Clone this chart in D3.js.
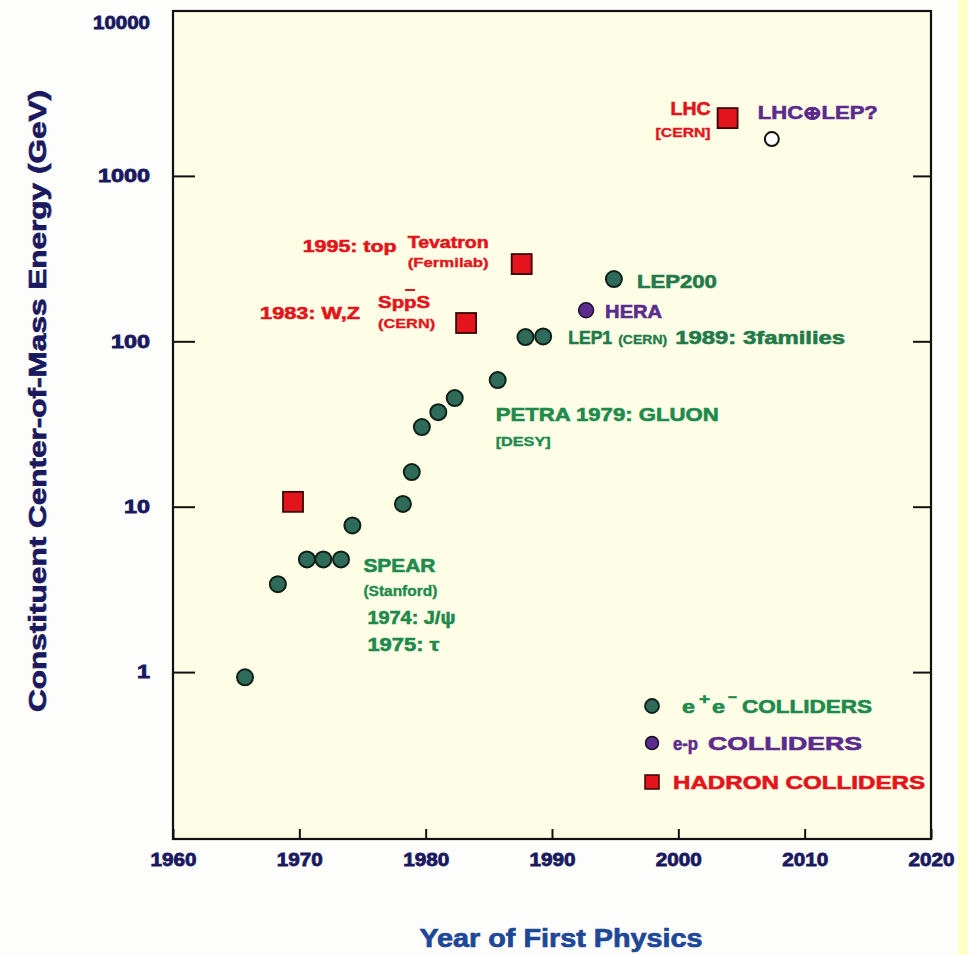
<!DOCTYPE html>
<html>
<head>
<meta charset="utf-8">
<script src="https://cdn.jsdelivr.net/npm/d3@7"></script>
<style>
  html, body { margin: 0; padding: 0; background: #fdfdfb; }
  svg { display: block; }
</style>
</head>
<body>
<svg id="chart" width="968" height="955"></svg>
<script>
// ---- data: year of first physics vs constituent centre-of-mass energy (GeV) ----
const eeYears   = [1965.7, 1968.3, 1970.6, 1971.9, 1973.3, 1974.2, 1978.2, 1978.9, 1979.7, 1981.0, 1982.3, 1985.7, 1987.9, 1989.3, 1994.9];
const eeEnergy  = [0.93, 3.4, 4.8, 4.8, 4.8, 7.7, 10.4, 16.2, 30.3, 37.3, 45.4, 58.3, 106, 107, 238];
const epYears   = [1992.7];
const epEnergy  = [154];
const hadronNames  = ["ISR", "SppS", "Tevatron", "LHC"];
const hadronYears  = [1969.5, 1983.2, 1987.6, 2003.9];
const hadronEnergy = [10.7, 129, 293, 2236];
const futureYears  = [2007.4];
const futureEnergy = [1670];
const xTicks = [1960, 1970, 1980, 1990, 2000, 2010, 2020];
const yTicks = [1, 10, 100, 1000, 10000];

// ---- layout ----
const FONT = "'Liberation Sans', Arial, Helvetica, sans-serif";
const GREEN_TXT = "#1e8a4c", LEP_TXT = "#237a49", GREEN_MK = "#2e6b58", PURPLE = "#5b2b8e", RED = "#e3141b", NAVY = "#1a1960";
const box = { left: 173, right: 931, top: 11, bottom: 839 };

const svg = d3.select("#chart");
const x = d3.scaleLinear().domain([1960, 2020]).range([box.left, box.right]);
const y = d3.scaleLog().domain([0.1, 10000]).range([837.5, 10.5]);

// heavy bold text helper
const heavy = (sel, color, sw) => sel
  .attr("font-family", FONT).attr("font-weight", "bold")
  .attr("fill", color).attr("stroke", color).attr("stroke-width", sw == null ? 0.6 : sw)
  .attr("lengthAdjust", "spacingAndGlyphs");

// yellow strip at the right edge
svg.append("rect").attr("x", 958).attr("y", 0).attr("width", 10).attr("height", 955).attr("fill", "#ffffc6");

// plot panel
svg.append("rect")
  .attr("x", box.left).attr("y", box.top)
  .attr("width", box.right - box.left).attr("height", box.bottom - box.top)
  .attr("fill", "#fefee6");

// ---- axes ----
const styleAxis = g => {
  g.select(".domain").remove();
  g.selectAll(".tick line").attr("stroke", "#111").attr("stroke-width", 2);
  heavy(g.selectAll(".tick text"), NAVY, 0.8).attr("font-size", 18);
};

const yAxis = svg.append("g").attr("transform", `translate(${box.left},0)`)
  .call(d3.axisLeft(y).tickValues(yTicks).tickFormat(d3.format("d")).tickSize(-22).tickPadding(23))
  .call(styleAxis);
yAxis.selectAll(".tick text").attr("textLength", d => String(d).length * 13);
yAxis.selectAll(".tick").filter(d => d === 10000).select("text").attr("dy", "1.0em").attr("textLength", 57);

svg.append("g").attr("transform", `translate(${box.right},0)`)
  .call(d3.axisRight(y).tickValues(yTicks).tickFormat("").tickSize(-18))
  .call(styleAxis);

const xAxis = svg.append("g").attr("transform", `translate(0,${box.bottom})`)
  .call(d3.axisBottom(x).tickValues(xTicks).tickFormat(d3.format("d")).tickSize(-10).tickPadding(14))
  .call(styleAxis);
xAxis.selectAll(".tick text").attr("textLength", 46);

// frame
svg.append("rect")
  .attr("x", box.left).attr("y", box.top)
  .attr("width", box.right - box.left).attr("height", box.bottom - box.top)
  .attr("fill", "none").attr("stroke", "#111").attr("stroke-width", 2.2);

// axis titles
heavy(svg.append("text"), NAVY, 0.7)
  .attr("transform", `translate(46,401) rotate(-90)`)
  .attr("text-anchor", "middle").attr("font-size", 24)
  .attr("textLength", 622)
  .text("Constituent Center-of-Mass Energy (GeV)");

heavy(svg.append("text"), "#1f4797", 0.7)
  .attr("x", 561).attr("y", 947)
  .attr("text-anchor", "middle").attr("font-size", 25)
  .attr("textLength", 283)
  .text("Year of First Physics");

// ---- markers ----
const ee = eeYears.map((yr, i) => ({ year: yr, energy: eeEnergy[i] }));
const ep = epYears.map((yr, i) => ({ year: yr, energy: epEnergy[i] }));
const hadron = hadronYears.map((yr, i) => ({ name: hadronNames[i], year: yr, energy: hadronEnergy[i] }));
const future = futureYears.map((yr, i) => ({ year: yr, energy: futureEnergy[i] }));

svg.append("g").selectAll("circle").data(ee).join("circle")
  .attr("cx", d => x(d.year)).attr("cy", d => y(d.energy)).attr("r", 8)
  .attr("fill", GREEN_MK).attr("stroke", "#0f1f19").attr("stroke-width", 2);

svg.append("g").selectAll("circle").data(ep).join("circle")
  .attr("cx", d => x(d.year)).attr("cy", d => y(d.energy)).attr("r", 7.5)
  .attr("fill", PURPLE).attr("stroke", "#1a0f2a").attr("stroke-width", 1.5);

const SQ = 20;
svg.append("g").selectAll("rect").data(hadron).join("rect")
  .attr("x", d => x(d.year) - SQ / 2).attr("y", d => y(d.energy) - SQ / 2)
  .attr("width", SQ).attr("height", SQ)
  .attr("fill", RED).attr("stroke", "#3a0505").attr("stroke-width", 1.8);

svg.append("g").selectAll("circle").data(future).join("circle")
  .attr("cx", d => x(d.year)).attr("cy", d => y(d.energy)).attr("r", 7)
  .attr("fill", "#ffffff").attr("stroke", "#111").attr("stroke-width", 2);

// ---- annotations, placed relative to the marker they describe ----
const P = (arr, i) => ({ px: x(arr[i].year), py: y(arr[i].energy) });
const notes = [
  { at: P(hadron, 3), dx: -17, dy: -3,  text: "LHC",        size: 18, color: RED, anchor: "end", w: 40 },
  { at: P(hadron, 3), dx: -17, dy: 19,  text: "[CERN]",     size: 12, color: RED, anchor: "end", w: 55 },
  { at: P(future, 0), dx: -14, dy: -20, text: "LHC\u2295LEP?", size: 18, color: PURPLE, anchor: "start", w: 120 },
  { at: P(hadron, 2), dx: -114, dy: -16, text: "Tevatron",  size: 17, color: RED, anchor: "start", w: 81 },
  { at: P(hadron, 2), dx: -114, dy: 3,  text: "(Fermilab)", size: 13, color: RED, anchor: "start", w: 81 },
  { at: P(hadron, 2), dx: -219, dy: -12, text: "1995: top", size: 17, color: RED, anchor: "start", w: 94 },
  { at: P(hadron, 1), dx: -88, dy: -15, text: "SppS",       size: 17, color: RED, anchor: "start", w: 52 },
  { at: P(hadron, 1), dx: -88, dy: 5,   text: "(CERN)",     size: 13, color: RED, anchor: "start", w: 57 },
  { at: P(hadron, 1), dx: -206, dy: -4, text: "1983: W,Z",  size: 17, color: RED, anchor: "start", w: 100 },
  { at: P(ee, 14),    dx: 23, dy: 9,    text: "LEP200",     size: 18, color: LEP_TXT, anchor: "start", w: 80 },
  { at: P(ep, 0),     dx: 19, dy: 8,    text: "HERA",       size: 18, color: PURPLE, anchor: "start", w: 57 },
  { at: P(ee, 13),    dx: 25, dy: 8,    text: "LEP1",       size: 18, color: LEP_TXT, anchor: "start", w: 44 },
  { at: P(ee, 13),    dx: 75, dy: 8,    text: "(CERN)",     size: 12, color: LEP_TXT, anchor: "start", w: 49 },
  { at: P(ee, 13),    dx: 132, dy: 8,   text: "1989: 3families", size: 18, color: LEP_TXT, anchor: "start", w: 170 },
  { at: P(ee, 11),    dx: -2, dy: 41,   text: "PETRA  1979: GLUON", size: 18, color: GREEN_TXT, anchor: "start", w: 223 },
  { at: P(ee, 11),    dx: -2, dy: 66,   text: "[DESY]",     size: 12, color: GREEN_TXT, anchor: "start", w: 55 },
  { at: P(ee, 5),     dx: 11, dy: 47,   text: "SPEAR",      size: 18, color: GREEN_TXT, anchor: "start", w: 72 },
  { at: P(ee, 5),     dx: 11, dy: 71,   text: "(Stanford)", size: 14, color: GREEN_TXT, anchor: "start", w: 74 },
  { at: P(ee, 5),     dx: 15, dy: 99,   text: "1974: J/\u03c8", size: 18, color: GREEN_TXT, anchor: "start", w: 88 },
  { at: P(ee, 5),     dx: 15, dy: 126,  text: "1975: \u03c4", size: 18, color: GREEN_TXT, anchor: "start", w: 72 }
];

const noteSel = svg.append("g").selectAll("text").data(notes).join("text");
noteSel.each(function (d) { heavy(d3.select(this), d.color, d.size < 15 ? 0.35 : 0.6); });
noteSel
  .attr("x", d => d.at.px + d.dx).attr("y", d => d.at.py + d.dy)
  .attr("text-anchor", d => d.anchor)
  .attr("font-size", d => d.size)
  .attr("textLength", d => d.w)
  .text(d => d.text);

// antiproton bar over the second "p" of SppS
const spps = P(hadron, 1);
svg.append("line")
  .attr("x1", spps.px - 88 + 27).attr("x2", spps.px - 88 + 37)
  .attr("y1", spps.py - 33).attr("y2", spps.py - 33)
  .attr("stroke", RED).attr("stroke-width", 2);

// ---- legend ----
const legend = svg.append("g");
const lg = { mx: 652 };
legend.append("circle").attr("cx", lg.mx).attr("cy", 706).attr("r", 7)
  .attr("fill", GREEN_MK).attr("stroke", "#0f1f19").attr("stroke-width", 1.8);
legend.append("circle").attr("cx", lg.mx).attr("cy", 743).attr("r", 6.5)
  .attr("fill", PURPLE).attr("stroke", "#1a0f2a").attr("stroke-width", 1.5);
legend.append("rect").attr("x", lg.mx - 7).attr("y", 775).attr("width", 14).attr("height", 14)
  .attr("fill", RED).attr("stroke", "#3a0505").attr("stroke-width", 1.5);

const ltext = (xx, yy, txt, color, w, size) => heavy(legend.append("text"), color, 0.6)
  .attr("x", xx).attr("y", yy).attr("font-size", size || 18)
  .attr("textLength", w)
  .text(txt);

ltext(682, 713, "e", GREEN_TXT, 13);
ltext(699, 704, "+", GREEN_TXT, 11, 15);
ltext(712, 713, "e", GREEN_TXT, 13);
ltext(728, 702, "\u2212", GREEN_TXT, 9, 15);
ltext(742, 713, "COLLIDERS", GREEN_TXT, 130);
ltext(673, 750, "e-p", PURPLE, 25);
ltext(708, 750, "COLLIDERS", PURPLE, 154);
ltext(673, 789, "HADRON COLLIDERS", RED, 252);
</script>
</body>
</html>
